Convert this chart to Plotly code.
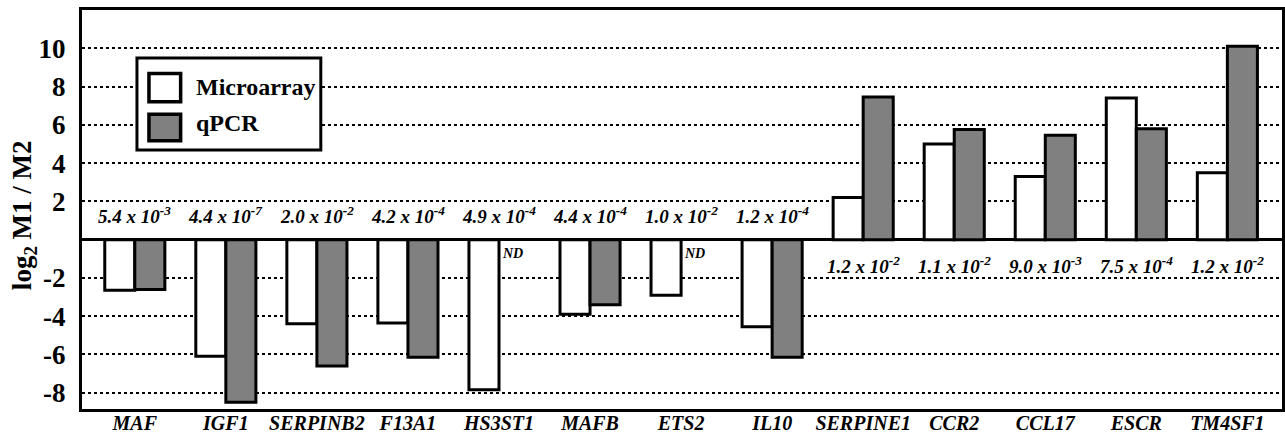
import plotly.graph_objects as go

genes = ["MAF", "IGF1", "SERPINB2", "F13A1", "HS3ST1", "MAFB", "ETS2", "IL10",
         "SERPINE1", "CCR2", "CCL17", "ESCR", "TM4SF1"]
microarray = [-2.65, -6.1, -4.4, -4.35, -7.85, -3.9, -2.9, -4.55,
              2.2, 5.0, 3.3, 7.4, 3.5]
qpcr = [-2.6, -8.5, -6.6, -6.15, None, -3.4, None, -6.15,
        7.45, 5.75, 5.45, 5.8, 10.1]
pvalues = ["5.4 x 10<sup>-3</sup>", "4.4 x 10<sup>-7</sup>", "2.0 x 10<sup>-2</sup>",
           "4.2 x 10<sup>-4</sup>", "4.9 x 10<sup>-4</sup>", "4.4 x 10<sup>-4</sup>",
           "1.0 x 10<sup>-2</sup>", "1.2 x 10<sup>-4</sup>", "1.2 x 10<sup>-2</sup>",
           "1.1 x 10<sup>-2</sup>", "9.0 x 10<sup>-3</sup>", "7.5 x 10<sup>-4</sup>",
           "1.2 x 10<sup>-2</sup>"]
ytick_vals = [-8, -6, -4, -2, 2, 4, 6, 8, 10]
ytick_text = ["-8", "-6", "-4", "-2", "2", "4", "6", "8", "10"]

FONT = "Liberation Serif, Times New Roman, serif"

fig = go.Figure()
fig.add_trace(go.Bar(x=genes, y=microarray, name="Microarray",
                     marker=dict(color="white", line=dict(color="black", width=3))))
fig.add_trace(go.Bar(x=genes, y=qpcr, name="qPCR",
                     marker=dict(color="#808080", line=dict(color="black", width=3))))

annotations = []
for g, m, q, p in zip(genes, microarray, qpcr, pvalues):
    neg = m < 0
    annotations.append(dict(x=g, y=1.3 if neg else -1.3, xref="x", yref="y",
                            text="<b><i>%s</i></b>" % p, showarrow=False,
                            font=dict(family=FONT, size=19, color="black")))
    if q is None:
        annotations.append(dict(x=g, y=-0.75, xref="x", yref="y", xshift=13,
                                text="<b><i>ND</i></b>", showarrow=False,
                                font=dict(family=FONT, size=14, color="black")))

# y-axis title
annotations.append(dict(x=-0.0483, y=0.486, xref="paper", yref="paper",
                        xanchor="center", yanchor="middle",
                        text="<b>log<sub>2</sub> M1 / M2</b>", textangle=-90, showarrow=False,
                        font=dict(family=FONT, size=27, color="black")))

# custom legend
annotations += [
    dict(x=0.0935, y=0.807, xref="paper", yref="paper", xanchor="left", yanchor="middle",
         text="<b>Microarray</b>", showarrow=False, font=dict(family=FONT, size=24, color="black")),
    dict(x=0.0935, y=0.717, xref="paper", yref="paper", xanchor="left", yanchor="middle",
         text="<b>qPCR</b>", showarrow=False, font=dict(family=FONT, size=24, color="black")),
]
shapes = [
    dict(type="rect", xref="paper", yref="paper", x0=0.0458, x1=0.199, y0=0.649, y1=0.880,
         fillcolor="white", line=dict(color="black", width=3), layer="above"),
    dict(type="rect", xref="paper", yref="paper", x0=0.0558, x1=0.0822, y0=0.770, y1=0.841,
         fillcolor="white", line=dict(color="black", width=3.5), layer="above"),
    dict(type="rect", xref="paper", yref="paper", x0=0.0558, x1=0.0822, y0=0.672, y1=0.739,
         fillcolor="#808080", line=dict(color="black", width=3.5), layer="above"),
]

fig.update_layout(
    width=1285, height=436,
    margin=dict(l=82, r=3, t=10, b=27),
    paper_bgcolor="white", plot_bgcolor="white",
    barmode="group", bargap=0.34, bargroupgap=0,
    showlegend=False,
    font=dict(family=FONT, color="black"),
    annotations=annotations, shapes=shapes,
    xaxis=dict(range=[-0.58, 12.6], showgrid=False, ticks="", automargin=False,
               tickfont=dict(family=FONT, size=20, color="black"),
               tickvals=genes, ticktext=["<b><i>%s</i></b>" % g for g in genes],
               ticklabelstandoff=-6,
               showline=True, linecolor="black", linewidth=3, mirror=True),
    yaxis=dict(range=[-8.85, 12], tickvals=ytick_vals, ticktext=["<b>%s</b>" % t for t in ytick_text],
               tickfont=dict(family=FONT, size=27, color="black"), automargin=False,
               showgrid=True, gridcolor="black", griddash="dot", gridwidth=1.5,
               zeroline=True, zerolinecolor="black", zerolinewidth=3,
               showline=True, linecolor="black", linewidth=3, mirror=True,
               ticks="", ticklabelstandoff=8),
)

fig.write_html("out.html", config={"displayModeBar": False},
               post_script="document.body.style.margin='0';document.body.style.overflow='hidden';")
